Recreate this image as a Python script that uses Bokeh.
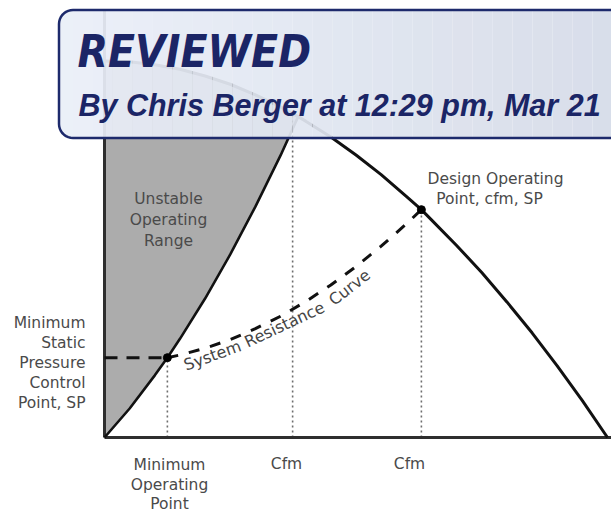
import numpy as np
from bokeh.plotting import figure
from bokeh.models import Range1d
from bokeh.core.properties import value
from bokeh.embed import file_html
from bokeh.resources import INLINE

# ---- values (flow and static pressure, % of fan maximum) ----
fan_flow = [0, 5, 10, 15, 20, 25, 30, 35, 38.5, 40, 45, 50, 55, 60, 63, 65, 70, 75, 80, 85, 90, 95, 100]
fan_sp = [100, 99.8, 99, 97.8, 96, 93.8, 91, 87.8, 85.2, 84, 79.8, 75, 69.8, 64, 60.5, 57.8, 51, 43.8, 36, 27.8, 19, 9.8, 0]
surge_flow = [0, 5, 10, 12.5, 15, 20, 25, 30, 35, 38.5]
surge_sp = [0, 7.7, 16.5, 21.2, 26.2, 36.9, 48.6, 61.3, 74.9, 85.2]
system_flow = [12.5, 15, 20, 25, 30, 35, 40, 45, 50, 55, 60, 63]
system_sp = [21.2, 21.9, 23.7, 26.0, 28.9, 32.2, 36.1, 40.5, 45.4, 50.8, 56.7, 60.5]
min_sp_flow = [0, 12.5]
min_sp_value = [21.2, 21.2]
point_flow = [12.5, 63]
point_sp = [21.2, 60.5]
cfm_marks = [12.5, 37.4, 63]
cfm_mark_tops = [21.2, 86, 60.5]
tick_labels = ["Cfm", "Cfm"]
curve_words = ["System", "Resistance", "Curve"]

# ---- page geometry (figure fills the 611x514 window) ----
W, H = 611, 514
ORIGIN_X, ORIGIN_Y = 104, 437
PX_Q, PX_SP = 5.03, 3.766
x_start = -ORIGIN_X / PX_Q
x_end = x_start + W / PX_Q
y_end = ORIGIN_Y / PX_SP
y_start = y_end - H / PX_SP


def dx(px):
    return (px - ORIGIN_X) / PX_Q


def dy(py):
    return (ORIGIN_Y - py) / PX_SP


p = figure(width=W, height=H, x_range=Range1d(x_start, x_end), y_range=Range1d(y_start, y_end),
           toolbar_location=None, output_backend="svg", min_border=0,
           x_axis_location=None, y_axis_location=None)
p.grid.visible = False
p.outline_line_color = None
p.background_fill_color = "#ffffff"
p.border_fill_color = "#ffffff"

# unstable region
n_fan_left = fan_flow.index(38.5)
reg_x = list(surge_flow) + fan_flow[:n_fan_left + 1][::-1]
reg_y = list(surge_sp) + fan_sp[:n_fan_left + 1][::-1]
p.patch(reg_x, reg_y, fill_color="#acacac", line_color=None)

# dotted flow marks
p.segment(x0=cfm_marks, y0=[0] * 3, x1=cfm_marks, y1=cfm_mark_tops,
          line_color="#6e6e6e", line_width=1.6, line_dash="2 3")

# axes
p.segment(x0=[0, 0], y0=[0, 0], x1=[0, x_end + 2], y1=[dy(9), 0],
          line_color="#2e2e2e", line_width=3)

# curves
p.line(surge_flow, surge_sp, line_color="#111111", line_width=2.6)
p.line(fan_flow, fan_sp, line_color="#111111", line_width=3)
p.line(min_sp_flow, min_sp_value, line_color="#111111", line_width=3, line_dash="13 9")
p.line(system_flow, system_sp, line_color="#111111", line_width=3, line_dash="11 11")
p.scatter(point_flow, point_sp, size=8, color="#000000")

# labels
lab_font = value("DejaVu Sans")
lab_col = "#4a4a4a"
p.text(x=[dx(168)] * 3, y=[dy(198), dy(219), dy(240)], text=["Unstable", "Operating", "Range"],
       text_font=lab_font, text_font_size="15.5px", text_color=lab_col,
       text_align="center", text_baseline="middle")
p.text(x=[dx(85)] * 5, y=[dy(322), dy(342), dy(362), dy(382), dy(402)],
       text=["Minimum", "Static", "Pressure", "Control", "Point, SP"],
       text_font=lab_font, text_font_size="15.5px", text_color=lab_col,
       text_align="right", text_baseline="middle")
p.text(x=[dx(169)] * 3, y=[dy(464), dy(484), dy(503)], text=["Minimum", "Operating", "Point"],
       text_font=lab_font, text_font_size="15.5px", text_color=lab_col,
       text_align="center", text_baseline="middle")
p.text(x=[dx(286), dx(409)], y=[dy(463)] * 2, text=tick_labels,
       text_font=lab_font, text_font_size="15.5px", text_color=lab_col,
       text_align="center", text_baseline="middle")
p.text(x=[dx(495), dx(489)], y=[dy(178), dy(198)], text=["Design Operating", "Point, cfm, SP"],
       text_font=lab_font, text_font_size="15.5px", text_color=lab_col,
       text_align="center", text_baseline="middle")
p.text(x=[dx(212), dx(284), dx(349)], y=[dy(355), dy(324), dy(287)], text=curve_words,
       angle=[np.radians(20), np.radians(25), np.radians(38)],
       text_font=lab_font, text_font_size="16px", text_color="#454545",
       text_align="center", text_baseline="middle")

# ---- REVIEWED stamp ----
sx0, sy0, sx1, sy1, r = 58.5, 9.5, 660.0, 137.5, 14.0


def arc(cx, cy, a0, a1, n=10):
    t = np.radians(np.linspace(a0, a1, n))
    return list(cx + r * np.cos(t)), list(cy + r * np.sin(t))


ox, oy = [], []
for cx, cy, a0, a1 in [(sx1 - r, sy0 + r, -90, 0), (sx1 - r, sy1 - r, 0, 90),
                       (sx0 + r, sy1 - r, 90, 180), (sx0 + r, sy0 + r, 180, 270)]:
    ax_, ay_ = arc(cx, cy, a0, a1)
    ox += ax_
    oy += ay_

c_left = np.array([0xea, 0xef, 0xf8])
c_right = np.array([0xd5, 0xdb, 0xe8])


def col(f):
    c = (c_left + (c_right - c_left) * f).round().astype(int)
    return "#%02x%02x%02x" % tuple(c)


lx1, ly1 = arc(sx0 + r, sy0 + r, 270, 180)
lx2, ly2 = arc(sx0 + r, sy1 - r, 180, 90)
p.patch([dx(v) for v in lx1 + lx2], [dy(v) for v in ly1 + ly2], fill_color=col(0), fill_alpha=0.93,
        line_color=None)
edges = np.linspace(sx0 + r, 612, 28)
qx0 = [dx(v) for v in edges[:-1]]
qx1 = [dx(v) for v in edges[1:]]
fr = [(0.5 * (a + b) - sx0) / (612 - sx0) for a, b in zip(edges[:-1], edges[1:])]
p.quad(left=qx0, right=qx1, top=[dy(sy0)] * len(qx0), bottom=[dy(sy1)] * len(qx0),
       fill_color=[col(f) for f in fr], fill_alpha=0.93, line_color=None)
p.patch([dx(v) for v in ox], [dy(v) for v in oy], fill_alpha=0, line_color="#1d2a6c", line_width=2.5)

navy = "#1b2566"
p.text(x=[dx(77)], y=[dy(51)], text=["REVIEWED"], text_font=value("DejaVu Sans Condensed"),
       text_font_style="bold italic", text_font_size="44px", text_color=navy,
       text_align="left", text_baseline="middle")
p.text(x=[dx(78)], y=[dy(104)], text=["By Chris Berger at 12:29 pm, Mar 21"], text_font=value("Liberation Sans"),
       text_font_style="bold italic", text_font_size="30.5px", text_color=navy,
       text_align="left", text_baseline="middle")

open("out.html", "w").write(file_html(p, INLINE))
